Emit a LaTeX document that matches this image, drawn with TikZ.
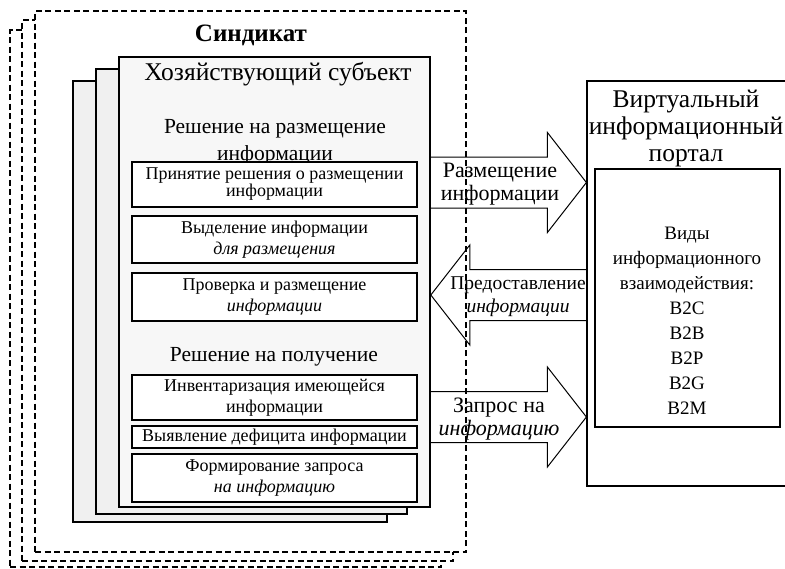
\documentclass[tikz,border=0pt]{standalone}
\usepackage{fontspec}
\setmainfont{Liberation Serif}
\usetikzlibrary{calc}

% block arrow from tail #1 to tip #2, #3 names the head base
\newcommand{\blockarrow}[3]{%
  \coordinate (#3) at ($(#2)!39pt!(#1)$);
  \draw[blockarr] ($(#1)!25.5pt!90:(#2)$) -- ($(#3)!25.5pt!-90:(#1)$)
    -- ($(#3)!50pt!-90:(#1)$) -- (#2) -- ($(#3)!50pt!90:(#1)$)
    -- ($(#3)!25.5pt!90:(#1)$) -- ($(#1)!25.5pt!-90:(#2)$) -- cycle;}

\begin{document}
\begin{tikzpicture}[x=1pt, y=-1pt,
    syndbox/.style={draw, dash pattern=on 6pt off 3.5pt, line width=1.1pt,
                    fill=white, minimum width=431pt, minimum height=541pt,
                    inner sep=0pt},
    pagebox/.style={draw, line width=1.6pt, fill=black!6, inner sep=0pt},
    stepbox/.style={draw, line width=1.2pt, fill=white, minimum width=285pt,
                    inner sep=0pt, align=center,
                    font=\fontsize{18}{21}\selectfont},
    blockarr/.style={line width=1pt, line join=miter},
    lbl/.style={align=center, font=\fontsize{22}{23}\selectfont},
    portalbox/.style={draw, line width=1.2pt, inner sep=0pt}
  ]
  \useasboundingbox (0,0) rectangle (785,568);

  % syndicate
  \node[syndbox, minimum height=537pt] (synd3) at (225.5,298.5) {};
  \node[syndbox] (synd2) at (237.5,290.5) {};
  \node[syndbox] (synd) at (250.5,281.5) {};
  \node[font=\fontsize{25}{28}\selectfont\bfseries] (syndt) at (251,35) {Синдикат};

  % firms
  \node[pagebox, minimum width=314pt, minimum height=441pt] (firm3) at (230,301.5) {};
  \node[pagebox, minimum width=311pt, minimum height=445pt] (firm2) at (251.5,291.5) {};
  \node[pagebox, minimum width=311pt, minimum height=450pt, fill=black!3] (firm) at (274.5,282) {};
  \node[font=\fontsize{25.5}{28}\selectfont] (firmt) at (278,74) {Хозяйствующий субъект};

  \node[align=center, font=\fontsize{21.5}{27}\selectfont] (dec1) at (275,142) {Решение на размещение\\информации};
  \node[stepbox, minimum height=45pt, font=\fontsize{18}{17}\selectfont] (s1) at (274.5,184.5) {Принятие решения о размещении\\информации};
  \node[stepbox, minimum height=47pt] (s2) at (274.5,239.5) {Выделение информации\\\textit{для размещения}};
  \node[stepbox, minimum height=48pt] (s3) at (274.5,297) {Проверка и размещение\\\textit{информации}};
  \node[font=\fontsize{21.5}{24}\selectfont] (dec2) at (274,357) {Решение на получение};
  \node[stepbox, minimum height=45pt] (s4) at (274.5,397.5) {Инвентаризация имеющейся\\информации};
  \node[stepbox, minimum height=22pt] (s5) at (274.5,437) {Выявление дефицита информации};
  \node[stepbox, minimum height=48pt] (s6) at (274.5,478) {Формирование запроса\\\textit{на информацию}};

  % portal
  \node[portalbox, minimum width=203pt, minimum height=405pt] (portal) at (688.5,283.5) {};
  \node[align=center, font=\fontsize{25.5}{27}\selectfont] (portalt) at (686,128.5) {Виртуальный\\информационный\\портал};
  \node[portalbox, minimum width=185pt, minimum height=258pt] (kinds) at (687.5,298) {};
  \node[align=center, font=\fontsize{19}{25}\selectfont] (kindst) at (687,321) {Виды\\информационного\\взаимодействия:\\B2C\\B2B\\B2P\\B2G\\B2M};

  % arrows
  \coordinate (a1) at (430,182.5);
  \coordinate (b1) at (portal.west |- a1);
  \blockarrow{a1}{b1}{h1}
  \coordinate (b2) at (587,295);
  \coordinate (a2) at (firm.east |- b2);
  \blockarrow{b2}{a2}{h2}
  \coordinate (a3) at (430,417);
  \coordinate (b3) at (portal.west |- a3);
  \blockarrow{a3}{b3}{h3}

  \node[lbl] (l1) at (500,184) {Размещение\\информации};
  \node[lbl, font=\fontsize{19.5}{23}\selectfont] (l2) at (518,297) {Предоставление\\\textit{информации}};
  \node[lbl] (l3) at (499,419) {Запрос на\\\textit{информацию}};
\end{tikzpicture}
\end{document}
